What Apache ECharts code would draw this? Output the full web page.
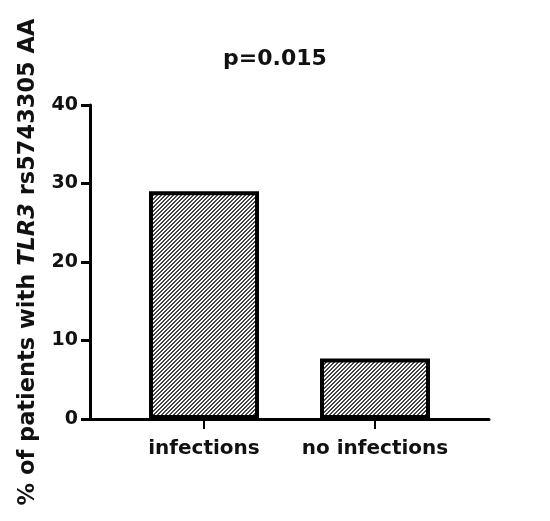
<!DOCTYPE html>
<html>
<head>
<meta charset="utf-8">
<script src="https://cdn.jsdelivr.net/npm/echarts@6/dist/echarts.min.js"></script>
<style>
  html, body { margin: 0; padding: 0; background: #fff; }
  #chart { width: 550px; height: 521px; }
</style>
</head>
<body>
<div id="chart"></div>
<script>
// values
const categories = ['infections', 'no infections'];
const categoryPos = [1, 2];
const percentValues = [29, 7.7];
const yTicks = [0, 10, 20, 30, 40];

// diagonal hatch tile, "/" direction
function hatchTile() {
  const c = document.createElement('canvas');
  c.width = 4;
  c.height = 4;
  const ctx = c.getContext('2d');
  ctx.fillStyle = '#fff';
  ctx.fillRect(0, 0, 4, 4);
  ctx.fillStyle = '#444';
  for (let y = 0; y < 4; y++) {
    ctx.fillRect((3 - y + 4) % 4, y, 1, 1);
    ctx.fillRect((4 - y + 4) % 4, y, 1, 1);
  }
  return c;
}

const font = 'DejaVu Sans';
const chart = echarts.init(document.getElementById('chart'));

chart.setOption({
  animation: false,
  backgroundColor: '#fff',
  title: {
    text: 'p=0.015',
    left: 'center',
    top: 43,
    textStyle: { fontFamily: font, fontWeight: 'bold', fontSize: 22, color: '#111' }
  },
  grid: { left: 90, right: 61, top: 105, bottom: 102 },
  xAxis: {
    type: 'value',
    min: 1 / 3,
    max: 8 / 3,
    splitLine: { show: false },
    axisLine: { show: true, lineStyle: { color: '#000', width: 3 } },
    axisTick: { show: true, length: 10, customValues: categoryPos, lineStyle: { color: '#000', width: 2 } },
    axisLabel: {
      customValues: categoryPos,
      formatter: v => categories[categoryPos.indexOf(Math.round(v))] || '',
      margin: 20,
      fontFamily: font, fontWeight: 'bold', fontSize: 20, color: '#111'
    }
  },
  yAxis: {
    type: 'value',
    min: yTicks[0],
    max: yTicks[yTicks.length - 1],
    interval: 10,
    splitLine: { show: false },
    axisLine: { show: true, lineStyle: { color: '#000', width: 3 } },
    axisTick: { show: true, length: 9, lineStyle: { color: '#000', width: 3 } },
    axisLabel: { margin: 12, fontFamily: font, fontWeight: 'bold', fontSize: 19, color: '#111' },
    name: '{n|% of patients with }{i|TLR3}{n| rs5743305 AA}',
    nameLocation: 'middle',
    nameGap: 50,
    nameTextStyle: {
      rich: {
        n: { fontFamily: font, fontWeight: 'bold', fontSize: 22.5, color: '#111' },
        i: { fontFamily: font, fontWeight: 'bold', fontStyle: 'italic', fontSize: 22.5, color: '#111' }
      }
    }
  },
  series: [{
    type: 'bar',
    barWidth: 110,
    data: categoryPos.map((x, i) => [x, percentValues[i]]),
    itemStyle: {
      color: { image: hatchTile(), repeat: 'repeat' },
      borderColor: '#000',
      borderWidth: 4
    }
  }]
});
</script>
</body>
</html>
